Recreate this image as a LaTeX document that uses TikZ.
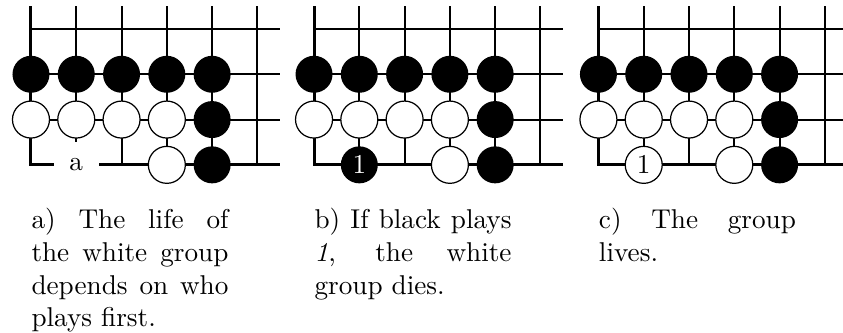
\documentclass[tikz,border=0pt]{standalone}
\usetikzlibrary{positioning}

\begin{document}
\begin{tikzpicture}[
    x=16.65pt, y=-16.65pt,
    grid/.style={line width=0.75pt},
    edge/.style={line width=1.1pt},
    black stone/.style={circle, fill=black, inner sep=0pt, minimum size=13.6pt},
    white stone/.style={circle, draw=black, fill=white, line width=0.45pt, inner sep=0pt, minimum size=13.6pt},
    pointlabel/.style={fill=white, inner sep=0pt, minimum size=16.65pt},
    caption/.style={anchor=base west, inner sep=0pt, text width=72.4pt, align=justify}
]
\useasboundingbox (-0.684,-0.640) rectangle (17.93,6.71);

% The three boards: same corner position
\foreach \dx/\brd in {0/a, 6.25/b, 12.53/c} {
  \begin{scope}[xshift=\dx*16.65pt]
    % open lines
    \foreach \i in {1,...,5} \draw[grid] (\i,-0.5) -- (\i,3);
    \foreach \j in {0,1,2} \draw[grid] (0,\j) -- (5.5,\j);
    % board edges
    \draw[edge] (0,-0.5) -- (0,3) -- (5.5,3);
    % stones
    \foreach \i in {0,...,4} \node[black stone] (\brd-b\i) at (\i,1) {};
    \foreach \i in {0,...,3} \node[white stone] (\brd-w\i) at (\i,2) {};
    \node[black stone] (\brd-b5) at (4,2) {};
    \node[white stone] (\brd-w4) at (3,3) {};
    \node[black stone] (\brd-b6) at (4,3) {};
  \end{scope}
}

% Key point and the two moves
\node[pointlabel] (a-point) at (1,3) {a};
\node[black stone, text=white] (b-move) at (7.25,3) {1};
\node[white stone] (c-move) at (13.53,3) {1};

% Captions
\node[caption] (a-text) at (0,4.415) {a) The life of\linebreak the white group\linebreak depends on who\linebreak plays first.};
\node[caption] (b-text) at (6.25,4.415) {b) If black plays\linebreak \textit{1}, the white\linebreak group dies.};
\node[caption] (c-text) at (12.53,4.415) {c) The group\linebreak lives.};

\end{tikzpicture}
\end{document}
